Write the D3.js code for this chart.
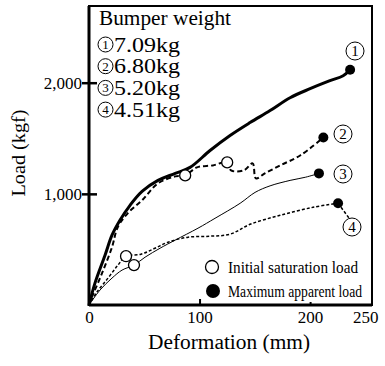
<!DOCTYPE html>
<html>
<head>
<meta charset="utf-8">
<script src="https://cdn.jsdelivr.net/npm/d3@7"></script>
<style>
  body { margin: 0; background: #fff; }
  svg text { font-family: "Liberation Serif", "Times New Roman", Times, serif; fill: #000; }
</style>
</head>
<body>
<svg id="chart" width="385" height="366"></svg>
<script>
// values: [deformation mm, load kgf]
const curve1 = [[0,0],[5.4,197],[14.5,448],[20.8,628],[28,762],[37.1,897],[48,1022],[62.4,1121],[78,1184],[91.4,1238],[109.5,1390],[127.6,1525],[145.7,1641],[163.8,1749],[181.9,1865],[200,1946],[218,2018],[229.9,2063],[236.2,2117]];
const curve2 = [[0,0],[2.7,72],[11.8,287],[20.8,520],[26,700],[35,825],[48,942],[62.4,1094],[78,1157],[87,1166],[97.7,1238],[112,1256],[125,1283],[128.5,1211],[140,1211],[148,1274],[151,1139],[159,1184],[173,1256],[191,1345],[212,1507]];
const curve3 = [[0,0],[10,135],[20.8,242],[29.9,314],[40.7,359],[50.7,430],[64.3,511],[77.8,583],[98.6,691],[114,780],[136.7,915],[150.2,1013],[163.8,1072],[181.9,1121],[196,1150],[208,1184]];
const curve4 = [[0,0],[7.2,117],[17.2,242],[26.2,359],[33.5,439],[47,457],[59.7,511],[71.5,565],[89.6,610],[109.5,619],[127.6,637],[145.7,726],[172.9,807],[202.7,879],[225.3,915]];

const initialSat = [[87,1166],[125,1283],[40.7,359],[33.5,439]];
const maxLoad = [[236.2,2117],[212,1507],[208,1184],[225.3,915]];

const weights = ["7.09kg","6.80kg","5.20kg","4.51kg"];
const seriesNames = ["1","2","3","4"];
const xTicks = [0,100,200,250];
const yTicks = [1000,2000];

const svg = d3.select("#chart");
const mLeft = 89, mRight = 372, mTop = 6, mBottom = 305;
const serif = "'Liberation Serif', 'Times New Roman', serif";

const x = d3.scaleLinear().domain([0,256]).range([mLeft,mRight]);
const y = d3.scaleLinear().domain([0,2690]).range([mBottom,mTop]);

// frame
svg.append("rect")
  .attr("x", mLeft).attr("y", mTop)
  .attr("width", mRight-mLeft).attr("height", mBottom-mTop)
  .attr("fill", "none").attr("stroke", "#000").attr("stroke-width", 2);
svg.append("line").attr("x1", mLeft).attr("x2", mLeft).attr("y1", mTop).attr("y2", mBottom+1)
  .attr("stroke", "#000").attr("stroke-width", 3);
svg.append("line").attr("x1", mLeft).attr("x2", mRight).attr("y1", mBottom).attr("y2", mBottom)
  .attr("stroke", "#000").attr("stroke-width", 3);

// axes
const yAxis = svg.append("g")
  .attr("transform", `translate(${mLeft},0)`)
  .call(d3.axisLeft(y).tickValues(yTicks).tickSize(7).tickFormat(d3.format(",")));
yAxis.attr("font-family", serif);
yAxis.select(".domain").remove();
yAxis.selectAll(".tick line").attr("x1", 8).attr("x2", -7).attr("stroke-width", 2.5);
yAxis.selectAll(".tick text").attr("x", -7).attr("font-size", 17);

const xAxis = svg.append("g")
  .attr("transform", `translate(0,${mBottom})`)
  .call(d3.axisBottom(x).tickValues(xTicks).tickSize(0));
xAxis.attr("font-family", serif);
xAxis.select(".domain").remove();
xAxis.selectAll(".tick line")
  .attr("y1", 0).attr("y2", d => (d === 100 ? -6 : d === 200 ? -3 : 0))
  .attr("stroke-width", 2);
xAxis.selectAll(".tick text").attr("y", 6).attr("font-size", 17);

// axis titles
svg.append("text")
  .attr("transform", "translate(25,153) rotate(-90)")
  .attr("text-anchor", "middle").attr("font-size", 19)
  .attr("textLength", 87).attr("lengthAdjust", "spacingAndGlyphs")
  .text("Load (kgf)");
svg.append("text")
  .attr("x", 229).attr("y", 349)
  .attr("text-anchor", "middle").attr("font-size", 20)
  .attr("textLength", 162).attr("lengthAdjust", "spacingAndGlyphs")
  .text("Deformation (mm)");

// curves
const line = d3.line().x(d => x(d[0])).y(d => y(d[1])).curve(d3.curveCatmullRom.alpha(0.5));
const styles = [
  { data: curve1, w: 3, dash: null },
  { data: curve2, w: 2, dash: "5,3" },
  { data: curve3, w: 1, dash: null },
  { data: curve4, w: 1.5, dash: "3,2" }
];
svg.selectAll("path.curve").data(styles).join("path")
  .attr("class", "curve")
  .attr("d", d => line(d.data))
  .attr("fill", "none").attr("stroke", "#000")
  .attr("stroke-width", d => d.w)
  .attr("stroke-dasharray", d => d.dash)
  .attr("stroke-linejoin", "round");

// leader from marker 4 to its label
svg.append("line")
  .attr("x1", x(maxLoad[3][0])).attr("y1", y(maxLoad[3][1]))
  .attr("x2", 349).attr("y2", 218)
  .attr("stroke", "#000").attr("stroke-width", 1.5).attr("stroke-dasharray", "3,2");

// markers
svg.selectAll("circle.sat").data(initialSat).join("circle")
  .attr("class", "sat")
  .attr("cx", d => x(d[0])).attr("cy", d => y(d[1])).attr("r", 5.5)
  .attr("fill", "#fff").attr("stroke", "#000").attr("stroke-width", 1.3);
svg.selectAll("circle.max").data(maxLoad).join("circle")
  .attr("class", "max")
  .attr("cx", d => x(d[0])).attr("cy", d => y(d[1])).attr("r", 5)
  .attr("fill", "#000");

// circled numbers next to curve ends
function circledNum(g, cx, cy, r, label, fs) {
  g.append("circle").attr("cx", cx).attr("cy", cy).attr("r", r)
    .attr("fill", "#fff").attr("stroke", "#000").attr("stroke-width", 1);
  g.append("text").attr("x", cx).attr("y", cy + fs*0.34)
    .attr("text-anchor", "middle").attr("font-size", fs).text(label);
}
const endLabels = [[355,51],[343,134],[343,174],[352,227]];
endLabels.forEach((p, i) => circledNum(svg, p[0], p[1], 9, seriesNames[i], 15));

// weight legend
svg.append("text").attr("x", 99).attr("y", 25).attr("font-size", 20)
  .attr("textLength", 132).attr("lengthAdjust", "spacingAndGlyphs")
  .text("Bumper weight");
weights.forEach((w, i) => {
  const cy = 44.5 + i*21.7;
  circledNum(svg, 105.5, cy, 7.5, seriesNames[i], 13);
  svg.append("text").attr("x", 114).attr("y", cy + 7).attr("font-size", 20)
    .attr("textLength", 66).attr("lengthAdjust", "spacingAndGlyphs")
    .text(w);
});

// marker legend
svg.append("circle").attr("cx", 212).attr("cy", 267).attr("r", 6.5)
  .attr("fill", "#fff").attr("stroke", "#000").attr("stroke-width", 1.3);
svg.append("text").attr("x", 228).attr("y", 273).attr("font-size", 16)
  .attr("textLength", 130).attr("lengthAdjust", "spacingAndGlyphs")
  .text("Initial saturation load");
svg.append("circle").attr("cx", 213).attr("cy", 291).attr("r", 7).attr("fill", "#000");
svg.append("text").attr("x", 228).attr("y", 297).attr("font-size", 16)
  .attr("textLength", 134).attr("lengthAdjust", "spacingAndGlyphs")
  .text("Maximum apparent load");
</script>
</body>
</html>
